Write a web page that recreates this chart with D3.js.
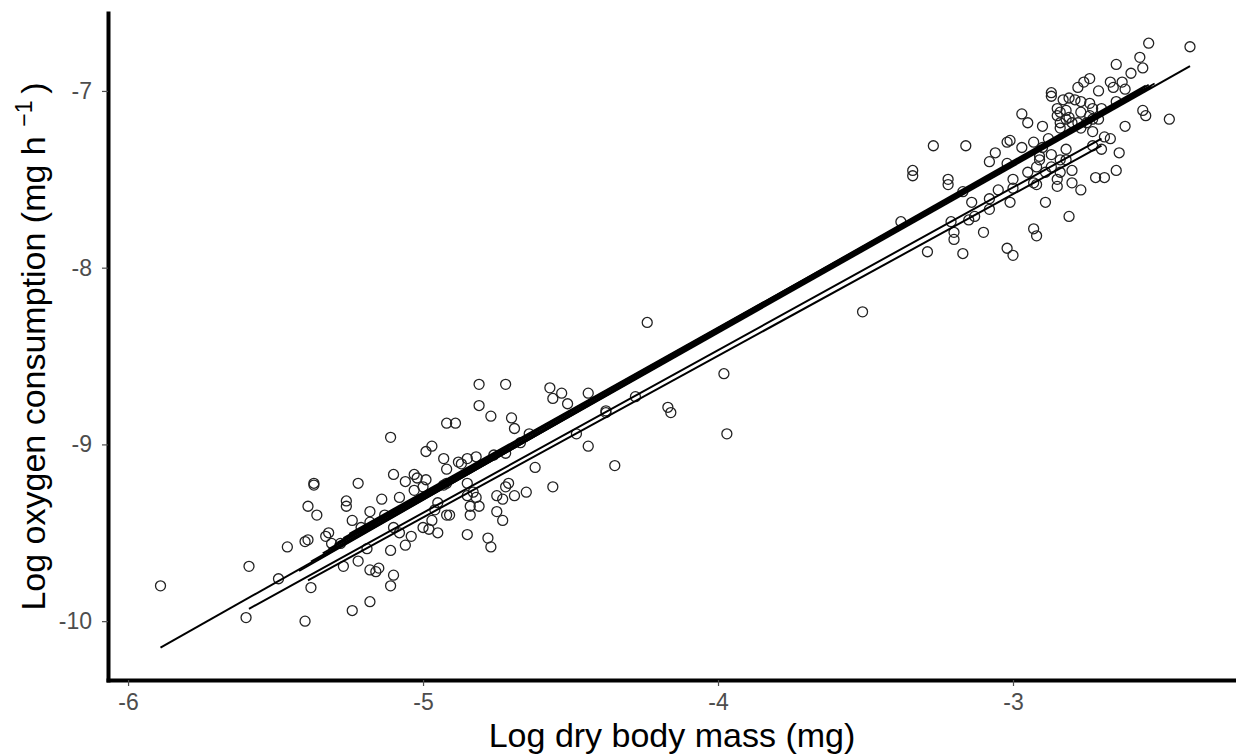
<!DOCTYPE html>
<html>
<head>
<meta charset="utf-8">
<script src="https://cdn.jsdelivr.net/npm/d3@7"></script>
<style>
  body { margin: 0; background: #fff; }
  svg { display: block; font-family: "Liberation Sans", Arial, sans-serif; }
  .axis text { fill: #4d4d4d; font-size: 23px; }
  .axis .tick line { stroke: #4d4d4d; stroke-width: 1.2; }
  .axis .domain { stroke: #000; stroke-width: 4; stroke-linecap: square; }
  .axis-title { fill: #000; font-size: 34px; }
  .point { fill: none; stroke: #222; stroke-width: 1.3; }
  .fit { fill: none; stroke: #000; }
</style>
</head>
<body>
<div id="chart"></div>
<script>
// log dry body mass (mg) of each measured animal
const bodyMass = [
  -5.89, -5.59, -5.60, -5.49, -5.40, -5.38, -5.46, -5.40, -5.39, -5.39,
  -5.36, -5.37, -5.37, -5.32, -5.33, -5.31, -5.28, -5.26, -5.26, -5.24,
  -5.22, -5.21, -5.22, -5.27, -5.24, -5.18, -5.18, -5.16, -5.15, -5.19,
  -5.18, -5.14, -5.13, -5.18, -5.11, -5.10, -5.08, -5.11, -5.10, -5.11,
  -5.08, -5.06, -5.04, -5.06, -5.03, -5.02, -5.03, -5.00, -4.99, -4.99,
  -4.97, -4.93, -4.92, -5.00, -4.98, -4.95, -4.97, -4.92, -4.92, -4.89,
  -4.88, -4.87, -4.85, -4.82, -4.76, -4.72, -4.93, -4.92, -4.85, -4.83,
  -4.82, -4.85, -4.84, -4.81, -4.84, -4.75, -4.73, -4.72, -4.75, -4.73,
  -4.91, -4.95, -4.85, -4.78, -4.77, -5.10, -4.81, -4.72, -4.81, -4.77,
  -4.70, -4.69, -4.57, -4.56, -4.53, -4.51, -4.44, -4.64, -4.67, -4.48,
  -4.44, -4.38, -4.38, -4.28, -4.35, -4.17, -4.16, -4.62, -4.56, -4.65,
  -4.69, -4.71, -4.24, -3.51, -3.98, -3.97, -4.96,
  -2.40, -2.54, -2.57, -2.56, -2.65, -2.60, -2.67, -2.66, -2.63, -2.62,
  -2.65, -2.71, -2.74, -2.76, -2.78, -2.87, -2.87, -2.83, -2.81, -2.79,
  -2.77, -2.74, -2.85, -2.84, -2.85, -2.82, -2.81, -2.77, -2.74, -2.73,
  -2.70, -2.84, -2.82, -2.80, -2.78, -2.84, -2.75, -2.73, -2.71, -2.56,
  -2.55, -2.47, -2.62, -2.69, -2.67, -2.73, -2.70, -2.64, -2.65, -2.72,
  -2.69, -2.77, -2.81, -2.80, -2.82, -2.84, -2.85, -2.89, -2.93, -2.92,
  -2.89, -2.92, -2.91, -2.93, -2.90, -2.97, -2.95, -2.90, -3.01, -3.02,
  -2.97, -3.06, -3.08, -3.02, -3.00, -3.01, -3.08, -3.10, -3.13, -3.15,
  -3.20, -3.20, -3.21, -2.93, -2.92, -3.02, -3.00, -3.17, -3.29, -3.27,
  -3.16, -3.34, -3.34, -3.22, -3.22, -3.17, -3.38, -3.14, -3.08, -3.05,
  -2.77, -2.73, -2.88, -2.91, -2.87, -2.82, -2.84, -2.87, -2.85, -2.80,
  -3.00, -2.95
];

// log oxygen consumption (mg h-1), same order as bodyMass
const oxygen = [
  -9.80, -9.69, -9.98, -9.76, -10.00, -9.81, -9.58, -9.55, -9.54, -9.35,
  -9.40, -9.22, -9.23, -9.50, -9.52, -9.56, -9.56, -9.32, -9.35, -9.43,
  -9.22, -9.47, -9.66, -9.69, -9.94, -9.89, -9.71, -9.72, -9.70, -9.59,
  -9.38, -9.31, -9.40, -9.44, -8.96, -9.17, -9.30, -9.60, -9.74, -9.80,
  -9.50, -9.57, -9.52, -9.21, -9.17, -9.19, -9.26, -9.24, -9.20, -9.04,
  -9.01, -9.08, -8.88, -9.47, -9.48, -9.50, -9.43, -9.40, -9.14, -8.88,
  -9.10, -9.11, -9.08, -9.07, -9.06, -9.05, -9.23, -9.22, -9.22, -9.27,
  -9.30, -9.29, -9.35, -9.35, -9.40, -9.29, -9.31, -9.24, -9.38, -9.43,
  -9.40, -9.33, -9.51, -9.53, -9.58, -9.47, -8.66, -8.66, -8.78, -8.84,
  -8.85, -8.91, -8.68, -8.74, -8.71, -8.77, -8.71, -8.94, -8.99, -8.94,
  -9.01, -8.81, -8.82, -8.73, -9.12, -8.79, -8.82, -9.13, -9.24, -9.27,
  -9.29, -9.22, -8.31, -8.25, -8.60, -8.94, -9.37,
  -6.75, -6.73, -6.81, -6.87, -6.85, -6.90, -6.95, -6.98, -6.95, -6.99,
  -7.06, -7.00, -6.93, -6.95, -6.98, -7.01, -7.03, -7.05, -7.04, -7.05,
  -7.06, -7.07, -7.10, -7.12, -7.14, -7.11, -7.15, -7.12, -7.14, -7.10,
  -7.10, -7.18, -7.16, -7.18, -7.18, -7.21, -7.18, -7.16, -7.16, -7.11,
  -7.14, -7.16, -7.20, -7.26, -7.27, -7.31, -7.33, -7.35, -7.45, -7.49,
  -7.49, -7.56, -7.71, -7.45, -7.39, -7.46, -7.54, -7.63, -7.52, -7.53,
  -7.46, -7.43, -7.39, -7.29, -7.32, -7.13, -7.18, -7.20, -7.28, -7.29,
  -7.32, -7.35, -7.40, -7.41, -7.55, -7.63, -7.67, -7.80, -7.71, -7.73,
  -7.80, -7.84, -7.74, -7.78, -7.82, -7.89, -7.93, -7.92, -7.91, -7.31,
  -7.31, -7.45, -7.48, -7.50, -7.53, -7.57, -7.74, -7.63, -7.61, -7.56,
  -7.21, -7.23, -7.27, -7.37, -7.36, -7.33, -7.39, -7.43, -7.50, -7.52,
  -7.50, -7.46
];

// separate fitted lines: [x start, y start, x end, y end]
const fitLines = [
  [-5.89, -10.15, -2.40, -6.86],
  [-5.59, -9.93, -2.70, -7.27],
  [-5.39, -9.77, -2.70, -7.31]
];

// bundle of overlapping fitted lines that reads as one dark band
const bundleStartX = [-5.42, -5.38, -5.34, -5.30, -5.27, -5.36, -5.32, -5.25, -5.29];
const bundleStartY = [-9.716, -9.663, -9.616, -9.568, -9.530, -9.655, -9.592, -9.505, -9.555];
const bundleEndX = [-2.54, -2.55, -2.53, -2.56, -2.54, -2.57, -2.55, -2.52, -2.55];
const bundleEndY = [-6.965, -6.985, -6.975, -6.990, -6.978, -7.005, -6.970, -6.958, -6.995];

const xTicks = [-6, -5, -4, -3];
const yTicks = [-10, -9, -8, -7];

class MassScatter {
  constructor(_config) {
    this.config = {
      parentElement: _config.parentElement,
      containerWidth: _config.containerWidth || 1236,
      containerHeight: _config.containerHeight || 756,
      margin: _config.margin || { top: 13, right: 0, bottom: 76, left: 108 }
    };
    this.initVis();
  }

  initVis() {
    let vis = this;

    vis.width = vis.config.containerWidth - vis.config.margin.left - vis.config.margin.right;
    vis.height = vis.config.containerHeight - vis.config.margin.top - vis.config.margin.bottom;

    vis.svg = d3
      .select(vis.config.parentElement)
      .append("svg")
      .attr("width", vis.config.containerWidth)
      .attr("height", vis.config.containerHeight);

    vis.chart = vis.svg
      .append("g")
      .attr("transform", `translate(${vis.config.margin.left},${vis.config.margin.top})`);

    vis.xScale = d3.scaleLinear().domain([-6.068, -2.244]).range([0, vis.width]);
    vis.yScale = d3.scaleLinear().domain([-10.333, -6.559]).range([vis.height, 0]);

    vis.xAxisG = vis.chart
      .append("g")
      .attr("class", "axis x-axis")
      .attr("transform", `translate(0,${vis.height})`);
    vis.yAxisG = vis.chart.append("g").attr("class", "axis y-axis");

    // axis titles
    vis.svg
      .append("text")
      .attr("class", "axis-title")
      .attr("x", vis.config.margin.left + vis.width / 2)
      .attr("y", 747)
      .style("text-anchor", "middle")
      .text("Log dry body mass (mg)");

    const yTitle = vis.svg
      .append("text")
      .attr("class", "axis-title")
      .attr("transform", `translate(45,${vis.config.margin.top + vis.height / 2}) rotate(-90)`)
      .style("text-anchor", "middle");
    yTitle.append("tspan").text("Log oxygen consumption (mg h ");
    yTitle.append("tspan").attr("dy", -13).style("font-size", "23px").text("\u22121");
    yTitle.append("tspan").attr("dy", 13).text("\u2009)");

    vis.renderVis();
  }

  renderVis() {
    let vis = this;

    const points = bodyMass.map((m, i) => ({ mass: m, oxygen: oxygen[i] }));

    vis.chart
      .selectAll(".point")
      .data(points)
      .join("circle")
      .attr("class", "point")
      .attr("r", 5)
      .attr("cx", (d) => vis.xScale(d.mass))
      .attr("cy", (d) => vis.yScale(d.oxygen));

    const bundle = bundleStartX.map((x0, i) => [x0, bundleStartY[i], bundleEndX[i], bundleEndY[i]]);

    vis.chart
      .selectAll(".bundle")
      .data(bundle)
      .join("line")
      .attr("class", "fit bundle")
      .attr("stroke-width", 1.8)
      .attr("x1", (d) => vis.xScale(d[0]))
      .attr("y1", (d) => vis.yScale(d[1]))
      .attr("x2", (d) => vis.xScale(d[2]))
      .attr("y2", (d) => vis.yScale(d[3]));

    vis.chart
      .selectAll(".single")
      .data(fitLines)
      .join("line")
      .attr("class", "fit single")
      .attr("stroke-width", 2)
      .attr("x1", (d) => vis.xScale(d[0]))
      .attr("y1", (d) => vis.yScale(d[1]))
      .attr("x2", (d) => vis.xScale(d[2]))
      .attr("y2", (d) => vis.yScale(d[3]));

    vis.xAxis = d3
      .axisBottom(vis.xScale)
      .tickValues(xTicks)
      .tickSizeInner(6)
      .tickSizeOuter(0)
      .tickPadding(8)
      .tickFormat((d) => String(d));

    vis.yAxis = d3
      .axisLeft(vis.yScale)
      .tickValues(yTicks)
      .tickSizeInner(6)
      .tickSizeOuter(0)
      .tickPadding(10)
      .tickFormat((d) => String(d));

    vis.xAxisG.call(vis.xAxis);
    vis.yAxisG.call(vis.yAxis);
    vis.chart.selectAll(".axis text").attr("font-family", null).attr("font-size", null);
  }
}

new MassScatter({ parentElement: "#chart" });
</script>
</body>
</html>
